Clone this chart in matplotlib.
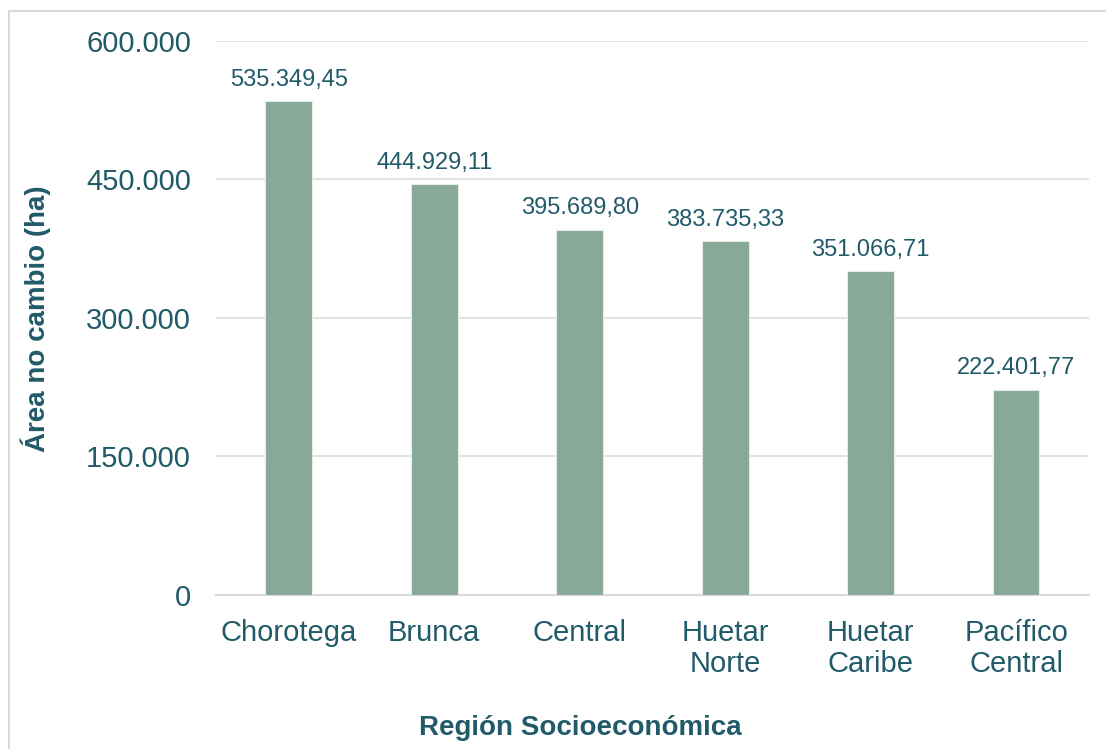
import matplotlib.pyplot as plt
from matplotlib.patches import Rectangle
from matplotlib.ticker import FuncFormatter

plt.rcParams["font.family"] = ["Liberation Sans", "DejaVu Sans"]

# area sin cambio por region socioeconomica (ha)
regiones = ["Chorotega", "Brunca", "Central", "Huetar\nNorte", "Huetar\nCaribe", "Pacífico\nCentral"]
area_ha = [535349.45, 444929.11, 395689.80, 383735.33, 351066.71, 222401.77]
yticks = [0, 150000, 300000, 450000, 600000]

text_color = "#215A69"
bar_color = "#88A898"


def miles(v, decimals=0):
    # formato con punto de miles y coma decimal
    s = f"{v:,.{decimals}f}"
    return s.replace(",", "X").replace(".", ",").replace("X", ".")


fig = plt.figure(figsize=(11.06, 7.49), dpi=100)
ax = fig.add_axes([0.1953, 0.2056, 0.7893, 0.7397])

x = range(len(regiones))
bars = ax.bar(x, area_ha, width=0.32, color=bar_color, edgecolor="#E6ECE9",
              linewidth=0.8, zorder=3)

for bar, v in zip(bars, area_ha):
    ax.text(bar.get_x() + bar.get_width() / 2, v + 11000, miles(v, 2),
            ha="center", va="bottom", fontsize=17, color=text_color)

ax.set_xlim(-0.5, len(regiones) - 0.5)
ax.set_ylim(0, 600000)
ax.set_yticks(yticks)
ax.yaxis.set_major_formatter(FuncFormatter(lambda v, p: miles(v)))
ax.set_xticks(list(x))
ax.set_xticklabels(regiones)

ax.grid(axis="y", color="#DCE5E2", linewidth=1.5, zorder=0)
for side in ["top", "right", "left"]:
    ax.spines[side].set_visible(False)
ax.spines["bottom"].set_color("#D9D9D9")
ax.spines["bottom"].set_linewidth(1.5)

ax.tick_params(axis="both", length=0, labelsize=21, colors=text_color)
ax.tick_params(axis="y", pad=18)
ax.tick_params(axis="x", pad=17)
for lbl in ax.get_xticklabels():
    lbl.set_linespacing(1.15)

fig.text(0.5245, 0.028, "Región Socioeconómica", ha="center", va="center",
         fontsize=20, fontweight="bold", color=text_color)
fig.text(0.032, 0.575, "Área no cambio (ha)", ha="center", va="center",
         rotation=90, fontsize=20, fontweight="bold", color=text_color)

# borde exterior del area del grafico
fig.patches.append(Rectangle((9 / 1106, -0.05), 1.2, 1 - 11 / 749 + 0.05,
                             transform=fig.transFigure, fill=False,
                             edgecolor="#D9D9D9", linewidth=1.5))

fig.savefig("out.png", dpi=100)
